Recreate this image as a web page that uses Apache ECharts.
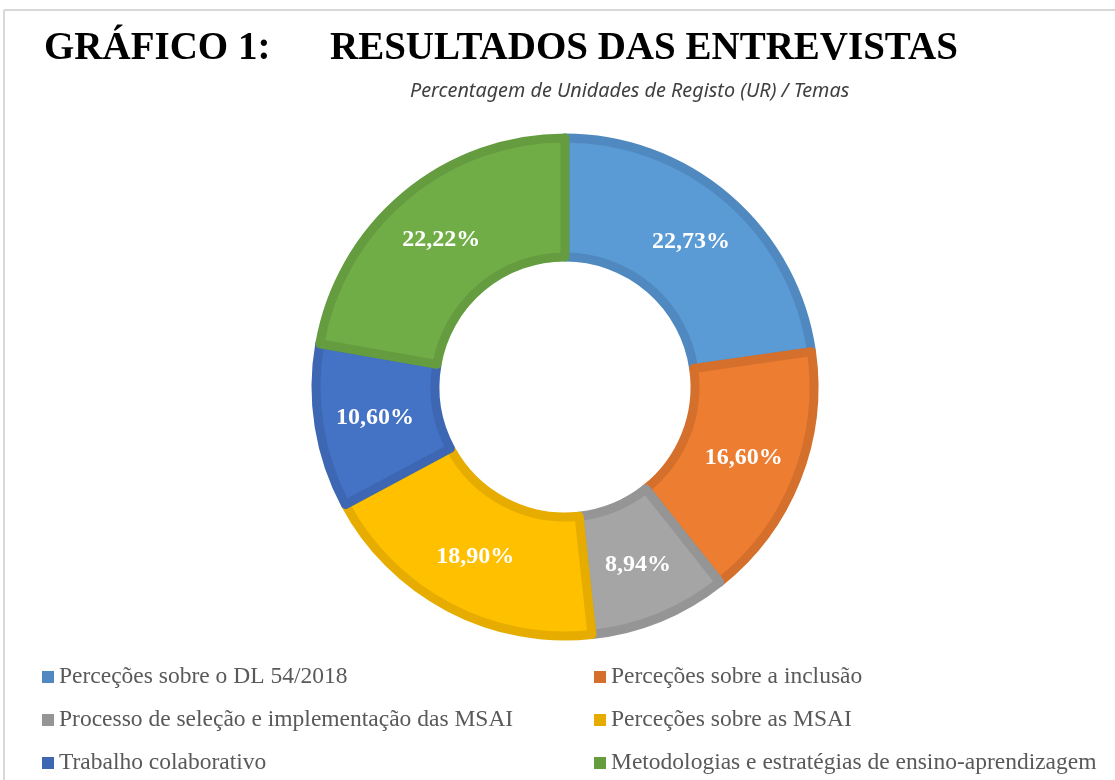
<!DOCTYPE html>
<html>
<head>
<meta charset="utf-8">
<script src="https://cdn.jsdelivr.net/npm/echarts@6/dist/echarts.min.js"></script>
<style>
  html, body { margin: 0; padding: 0; background: #fff; }
  #chart { width: 1115px; height: 780px; }
</style>
</head>
<body>
<div id="chart"></div>
<script>
// temas e percentagens (UR)
var temas = [
  "Perceções sobre o DL 54/2018",
  "Perceções sobre a inclusão",
  "Processo de seleção e implementação das MSAI",
  "Perceções sobre as MSAI",
  "Trabalho colaborativo",
  "Metodologias e estratégias de ensino-aprendizagem"
];
var percentagens = [22.73, 16.60, 8.94, 18.90, 10.60, 22.22];
var cores = ["#5B9BD5", "#ED7D31", "#A5A5A5", "#FFC000", "#4472C4", "#70AD47"];
var coresBorda = ["#4F89C0", "#D5702C", "#959595", "#E6AD00", "#3D67B2", "#659C40"];

var serif = "'Liberation Serif', 'Times New Roman', serif";

var dados = temas.map(function (t, i) {
  return {
    name: t,
    value: percentagens[i],
    itemStyle: { color: cores[i], borderColor: coresBorda[i] }
  };
});

function legendaDados(idx) {
  return idx.map(function (i) {
    return { name: temas[i], itemStyle: { color: coresBorda[i], borderWidth: 0 } };
  });
}

var legendaBase = {
  orient: "vertical",
  top: 665,
  height: 200,
  padding: 0,
  icon: "rect",
  itemWidth: 12,
  itemHeight: 12,
  itemGap: 19,
  selectedMode: false,
  textStyle: { fontFamily: serif, fontSize: 23.5, color: "#595959", lineHeight: 24 }
};

var myChart = echarts.init(document.getElementById("chart"));
myChart.setOption({
  animation: false,
  title: [
    {
      text: "GRÁFICO 1:",
      left: 44,
      top: 29,
      padding: 0,
      textStyle: { fontFamily: serif, fontSize: 39, fontWeight: "bold", color: "#000" }
    },
    {
      text: "RESULTADOS DAS ENTREVISTAS",
      left: 330,
      top: 29,
      padding: 0,
      textStyle: { fontFamily: serif, fontSize: 39, fontWeight: "bold", color: "#000" }
    },
    {
      text: "Percentagem de Unidades de Registo (UR) / Temas",
      left: 405,
      top: 76,
      textStyle: { fontFamily: "'Noto Sans', sans-serif", fontSize: 19.8, fontStyle: "italic", fontWeight: "normal", color: "#404040" }
    }
  ],
  graphic: [
    { type: "line", shape: { x1: 4, y1: 10, x2: 1115, y2: 10 }, style: { stroke: "#d9d9d9", lineWidth: 2 } },
    { type: "line", shape: { x1: 4, y1: 10, x2: 4, y2: 780 }, style: { stroke: "#d9d9d9", lineWidth: 2 } }
  ],
  legend: [
    Object.assign({}, legendaBase, { left: 42, data: legendaDados([0, 2, 4]) }),
    Object.assign({}, legendaBase, { left: 594, data: legendaDados([1, 3, 5]) })
  ],
  series: [
    {
      type: "pie",
      center: [565, 387],
      radius: [130, 249],
      startAngle: 90,
      clockwise: true,
      avoidLabelOverlap: false,
      itemStyle: { borderWidth: 9 },
      emphasis: { disabled: true },
      label: {
        position: "inside",
        color: "#fff",
        fontFamily: serif,
        fontSize: 24,
        fontWeight: "bold",
        formatter: function (p) {
          return p.value.toFixed(2).replace(".", ",") + "%";
        }
      },
      labelLine: { show: false },
      data: dados
    }
  ]
});
</script>
</body>
</html>
